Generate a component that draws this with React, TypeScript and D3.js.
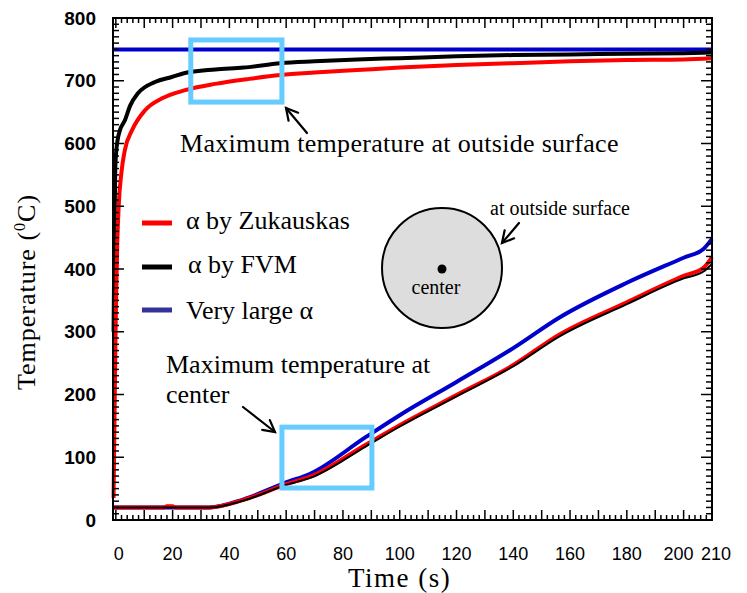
import React from "react";
import * as d3 from "d3";

// Maximum temperature at the outside surface (°C) against time (s)
const surfTimeZuk = [-0.8, -0.5, 0, 0.5, 1, 2, 3.2, 5.7, 10.3, 16.3, 24.4, 35, 47, 58, 70, 85, 100, 120, 140, 160, 180, 200, 210];
const surfTempZuk = [35, 150, 330, 440, 500, 555, 590, 621, 653, 672, 685, 695, 703, 709, 713, 717, 721, 725, 728, 731, 733, 734, 736];
const surfTimeFvm = [-0.8, -0.5, -0.2, 0.3, 0.8, 1.5, 3.2, 5, 7.8, 13.8, 19.7, 24, 35, 45, 58, 70, 85, 100, 120, 140, 160, 180, 200, 210];
const surfTempFvm = [300, 450, 560, 595, 610, 622, 637, 660, 680, 698, 706, 712, 718, 721, 728, 731, 734, 736, 739, 741, 742, 743, 744, 745];
const surfTimeLarge = [-1, 210];
const surfTempLarge = [750, 750];

// Maximum temperature at the center (°C) against time (s)
const centTimeZuk = [-1, 17, 18, 20, 21, 33, 45, 60, 69, 88, 100, 120, 140, 156, 180, 200, 207, 210];
const centTempZuk = [20, 20, 22, 22, 20, 20, 32, 57, 70, 120, 151, 199, 247, 295, 347, 389, 402, 419];
const centTimeFvm = [-1, 33, 45, 60, 69, 88, 100, 120, 140, 156, 180, 200, 207, 210];
const centTempFvm = [20, 20, 31, 56, 68, 117, 149, 197, 245, 292, 344, 385, 396, 408];
const centTimeLarge = [-1, 33, 45, 59.5, 69, 88, 100, 120, 140, 156, 180, 200, 207, 210];
const centTempLarge = [20, 20, 33, 59, 75, 132, 167, 220, 274, 322, 378, 418, 432, 448];

const xTickValues = [0, 20, 40, 60, 80, 100, 120, 140, 160, 180, 200, 210];
const yTickValues = [0, 100, 200, 300, 400, 500, 600, 700, 800];

const legendLabels = ["α by Zukauskas", "α by FVM", "Very large α"];
const legendColors = ["#ff0000", "#000000", "#333399"];

// Highlight boxes in data units: [t0, t1, T0, T1]
const zoomBoxSurface = [26.4, 58.5, 666, 765];
const zoomBoxCenter = [58.5, 90.2, 51, 148];

const W = 747;
const H = 593;
const SERIF = "'Liberation Serif', 'Times New Roman', serif";
const SANS = "'Liberation Sans', Arial, sans-serif";

const x = d3.scaleLinear().domain([-1, 210]).range([113, 712]);
const y = d3.scaleLinear().domain([0, 800]).range([520, 18]);

const lineGen = d3
  .line<[number, number]>()
  .x((d) => x(d[0]))
  .y((d) => y(d[1]))
  .curve(d3.curveMonotoneX);

function path(ts: number[], vs: number[]) {
  return lineGen(ts.map((t, i) => [t, vs[i]] as [number, number])) || "";
}

function Arrow({ x1, y1, x2, y2 }: { x1: number; y1: number; x2: number; y2: number }) {
  // open arrow head at (x2, y2)
  const ang = Math.atan2(y2 - y1, x2 - x1);
  const len = 13;
  const spread = 0.5;
  const a1 = ang + Math.PI - spread;
  const a2 = ang + Math.PI + spread;
  return (
    <g stroke="#000" strokeWidth={2.2} fill="none" strokeLinecap="round">
      <line x1={x1} y1={y1} x2={x2} y2={y2} />
      <polyline
        points={`${x2 + len * Math.cos(a1)},${y2 + len * Math.sin(a1)} ${x2},${y2} ${x2 + len * Math.cos(a2)},${y2 + len * Math.sin(a2)}`}
      />
    </g>
  );
}

// small nudges keep the crowded last two labels apart
const xLabelNudge: Record<number, number> = { 0: 3, 200: -5, 210: 4 };

export default function App() {
  const [x0, x1] = x.range();
  const [yb, yt] = y.range();

  const xMinor = d3.range(0, 211, 2);
  const yMinor = d3.range(0, 801, 10);

  const box = (b: number[]) => (
    <rect
      x={x(b[0])}
      y={y(b[3])}
      width={x(b[1]) - x(b[0])}
      height={y(b[2]) - y(b[3])}
      fill="none"
      stroke="#66ccff"
      strokeWidth={5}
    />
  );

  return (
    <svg
      width={W}
      height={H}
      style={{ position: "absolute", left: 0, top: 0, background: "#fff" }}
    >
      {/* data lines */}
      <g fill="none" strokeWidth={4} strokeLinejoin="round">
        <path d={path(surfTimeLarge, surfTempLarge)} stroke="#0000cc" />
        <path d={path(surfTimeFvm, surfTempFvm)} stroke="#000" />
        <path d={path(surfTimeZuk, surfTempZuk)} stroke="#ff0000" />
        <path d={path(centTimeLarge, centTempLarge)} stroke="#0000cc" />
        <path d={path(centTimeZuk, centTempZuk)} stroke="#ff0000" />
        <path d={path(centTimeFvm, centTempFvm)} stroke="#000" strokeWidth={2} />
      </g>

      {/* frame and ticks */}
      <g stroke="#000" strokeWidth={2}>
        <rect x={x0} y={yt} width={x1 - x0} height={yb - yt} fill="none" />
        {xMinor.map((t) => {
          const L = t % 10 === 0 ? 10 : 5;
          return (
            <g key={"xt" + t}>
              <line x1={x(t)} x2={x(t)} y1={yb} y2={yb - L} strokeWidth={1.5} />
              <line x1={x(t)} x2={x(t)} y1={yt} y2={yt + L} strokeWidth={1.5} />
            </g>
          );
        })}
        {yMinor.map((v) => {
          const L = v % 100 === 0 ? 11 : 6;
          return (
            <g key={"yt" + v}>
              <line x1={x0} x2={x0 + L} y1={y(v)} y2={y(v)} strokeWidth={1.5} />
              <line x1={x1} x2={x1 - L} y1={y(v)} y2={y(v)} strokeWidth={1.5} />
            </g>
          );
        })}
      </g>

      {/* tick labels */}
      <g fontFamily={SANS} fill="#000">
        {xTickValues.map((t) => (
          <text
            key={"xl" + t}
            x={x(t) + (xLabelNudge[t] || 0)}
            y={560}
            textAnchor="middle"
            fontSize={18}
          >
            {t}
          </text>
        ))}
        {yTickValues.map((v) => (
          <text
            key={"yl" + v}
            x={96}
            y={y(v)}
            dy="0.35em"
            textAnchor="end"
            fontWeight="bold"
            fontSize={19}
          >
            {v}
          </text>
        ))}
      </g>

      {/* axis titles */}
      <text x={348} y={587} fontFamily={SERIF} fontSize={27} letterSpacing={1.5}>
        Time (s)
      </text>
      <text
        transform="translate(35,292) rotate(-90)"
        textAnchor="middle"
        fontFamily={SERIF}
        fontSize={26}
        letterSpacing={1}
      >
        Temperature (<tspan fontSize={16} dy={-10}>0</tspan>
        <tspan dy={10}>C)</tspan>
      </text>

      {/* highlight boxes */}
      {box(zoomBoxSurface)}
      {box(zoomBoxCenter)}

      {/* annotations */}
      <text x={180} y={152} fontFamily={SERIF} fontSize={26} letterSpacing={0.3}>
        Maximum temperature at outside surface
      </text>
      <Arrow x1={307} y1={133} x2={286} y2={108} />

      <text x={166} y={373} fontFamily={SERIF} fontSize={26}>
        Maximum temperature at
      </text>
      <text x={166} y={403} fontFamily={SERIF} fontSize={26}>
        center
      </text>
      <Arrow x1={243} y1={407} x2={275} y2={432} />

      {/* cross-section sketch */}
      <circle cx={442} cy={268} r={60} fill="#dddddd" stroke="#000" strokeWidth={2} />
      <circle cx={442} cy={269} r={4.5} fill="#000" />
      <text x={436} y={294} textAnchor="middle" fontFamily={SERIF} fontSize={20}>
        center
      </text>
      <text x={490} y={215} fontFamily={SERIF} fontSize={20}>
        at outside surface
      </text>
      <Arrow x1={519} y1={223} x2={502} y2={243} />

      {/* legend */}
      {legendLabels.map((lab, i) => {
        const ly = [223, 267, 310][i];
        const ty = [229, 273, 319][i];
        return (
          <g key={lab}>
            <line x1={142} x2={172} y1={ly} y2={ly} stroke={legendColors[i]} strokeWidth={5} />
            <text x={i === 1 ? 188 : 186} y={ty} fontFamily={SERIF} fontSize={26}>
              {lab}
            </text>
          </g>
        );
      })}
    </svg>
  );
}
